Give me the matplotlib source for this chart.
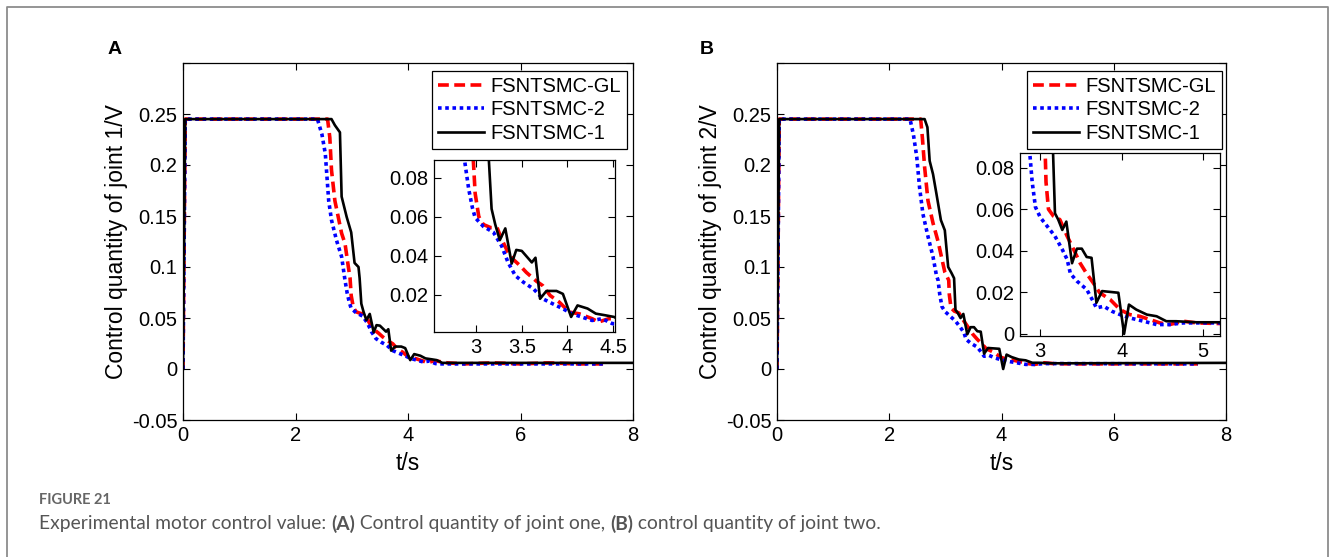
import numpy as np
import matplotlib
matplotlib.use("Agg")
import matplotlib.pyplot as plt
from matplotlib.lines import Line2D

plt.rcParams['font.family'] = ['Liberation Sans', 'DejaVu Sans']

# ---- data ----
labels = ["FSNTSMC-GL", "FSNTSMC-2", "FSNTSMC-1"]

# joint 1
t_gl_1 = [0, 0.04, 2.57, 2.61, 2.64, 2.70, 2.76, 2.82, 2.88, 2.94, 2.97, 2.99, 3.03, 3.08, 3.16, 3.23, 3.28,
          3.35, 3.41, 3.48, 3.55, 3.66, 3.73, 3.81, 3.91, 4.02, 4.13, 4.27, 4.34, 4.45, 4.51, 4.7, 5.0, 5.5,
          6.0, 6.5, 7.0, 7.5]
v_gl_1 = [0, 0.245, 0.245, 0.227, 0.195, 0.165, 0.149, 0.133, 0.123, 0.100, 0.089, 0.072, 0.060, 0.056,
          0.0544, 0.0544, 0.0485, 0.0417, 0.038, 0.035, 0.0315, 0.027, 0.0247, 0.0197, 0.0163, 0.0112,
          0.0103, 0.0078, 0.0061, 0.0078, 0.0078, 0.006, 0.005, 0.006, 0.005, 0.006, 0.005, 0.005]
t_s2_1 = [0, 0.04, 2.39, 2.47, 2.53, 2.56, 2.59, 2.64, 2.73, 2.82, 2.88, 2.92, 2.96, 2.99, 3.08, 3.19, 3.28,
          3.35, 3.43, 3.52, 3.63, 3.73, 3.84, 3.95, 4.05, 4.16, 4.27, 4.38, 4.49, 4.6, 7.5]
v_s2_1 = [0, 0.245, 0.245, 0.230, 0.211, 0.188, 0.165, 0.146, 0.126, 0.110, 0.087, 0.074, 0.0646, 0.0595,
          0.055, 0.052, 0.045, 0.0366, 0.0298, 0.0264, 0.023, 0.018, 0.0154, 0.0129, 0.0103, 0.0086,
          0.0069, 0.0078, 0.0053, 0.005, 0.005]
t_s1_1 = [0, 0.04, 2.64, 2.70, 2.79, 2.82, 2.91, 2.99, 3.05, 3.12, 3.14, 3.17, 3.21, 3.26, 3.32, 3.39, 3.44,
          3.50, 3.61, 3.65, 3.70, 3.77, 3.88, 3.95, 4.04, 4.11, 4.22, 4.31, 4.42, 4.51, 4.61, 8.0]
v_s1_1 = [0, 0.245, 0.245, 0.239, 0.232, 0.169, 0.149, 0.134, 0.104, 0.100, 0.089, 0.064, 0.056, 0.048,
          0.054, 0.036, 0.043, 0.0425, 0.0366, 0.039, 0.018, 0.022, 0.022, 0.0205, 0.0087, 0.0146, 0.013,
          0.0104, 0.0095, 0.0087, 0.006, 0.006]

# joint 2
t_gl_2 = [0, 0.04, 2.56, 2.59, 2.63, 2.69, 2.78, 2.87, 2.93, 2.99, 3.06, 3.07, 3.10, 3.16, 3.24, 3.33, 3.41,
          3.49, 3.57, 3.65, 3.73, 3.86, 3.98, 4.10, 4.22, 4.35, 4.47, 4.59, 4.76, 4.92, 5.2, 6.0, 7.0, 7.5]
v_gl_2 = [0, 0.245, 0.245, 0.227, 0.198, 0.165, 0.143, 0.125, 0.110, 0.095, 0.087, 0.073, 0.060, 0.0567,
          0.055, 0.047, 0.0406, 0.034, 0.029, 0.0246, 0.0198, 0.0165, 0.0117, 0.0093, 0.0085, 0.0069,
          0.0053, 0.0045, 0.0061, 0.0053, 0.005, 0.005, 0.005, 0.005]
t_s2_2 = [0, 0.04, 2.37, 2.43, 2.49, 2.54, 2.60, 2.69, 2.78, 2.84, 2.87, 2.90, 2.94, 3.0, 3.08, 3.18, 3.27,
          3.33, 3.37, 3.45, 3.57, 3.65, 3.69, 3.78, 3.88, 3.98, 4.10, 4.27, 4.43, 4.59, 4.76, 5.0, 5.2, 7.5]
v_s2_2 = [0, 0.245, 0.245, 0.230, 0.208, 0.178, 0.152, 0.130, 0.110, 0.092, 0.087, 0.073, 0.061, 0.056,
          0.052, 0.047, 0.0406, 0.0358, 0.029, 0.0254, 0.0214, 0.0157, 0.0125, 0.0133, 0.0109, 0.0093,
          0.0077, 0.0061, 0.0045, 0.0045, 0.0053, 0.0053, 0.0053, 0.005]
t_s1_2 = [0, 0.04, 2.63, 2.68, 2.72, 2.78, 2.84, 2.92, 2.99, 3.05, 3.11, 3.155, 3.18, 3.22, 3.27, 3.32, 3.39,
          3.45, 3.51, 3.57, 3.63, 3.69, 3.76, 3.96, 4.03, 4.09, 4.18, 4.31, 4.43, 4.55, 4.67, 4.92, 5.2, 8.0]
v_s1_2 = [0, 0.245, 0.245, 0.237, 0.204, 0.191, 0.172, 0.146, 0.136, 0.100, 0.094, 0.089, 0.058, 0.055,
          0.050, 0.054, 0.034, 0.041, 0.041, 0.037, 0.0366, 0.015, 0.0206, 0.0198, 0.0, 0.0141, 0.0117,
          0.0093, 0.0085, 0.0061, 0.0061, 0.0056, 0.0056, 0.006]

main_yticks = [-0.05, 0, 0.05, 0.1, 0.15, 0.2, 0.25, 0.3]
main_yticklabels = ["-0.05", "0", "0.05", "0.1", "0.15", "0.2", "0.25", ""]
main_xticks = [0, 2, 4, 6, 8]

W, H = 1332, 557
fig = plt.figure(figsize=(W / 100, H / 100), dpi=100)


def px(x0, y0, x1, y1):
    # pixel box (left, top, right, bottom) -> figure fraction rect
    return [x0 / W, 1 - y1 / H, (x1 - x0) / W, (y1 - y0) / H]


def style(ax, size):
    ax.tick_params(direction='in', top=True, right=True, length=5, width=0.8, labelsize=size, pad=4)
    for s in ax.spines.values():
        s.set_linewidth(0.9)


def draw(ax, tg, vg, t2, v2, t1, v1):
    ax.plot(tg, vg, color='red', lw=2.6, dashes=(3, 1.5), label=labels[0])
    ax.plot(t2, v2, color='blue', lw=2.6, dashes=(1, 1.0), label=labels[1])
    ax.plot(t1, v1, color='black', lw=1.9, label=labels[2])


panels = [
    dict(main=(183, 63, 633, 420), inset=(434, 160, 615, 332), legend=(627, 71), letter=(115, 50),
         ylabel="Control quantity of joint 1/V", data=(t_gl_1, v_gl_1, t_s2_1, v_s2_1, t_s1_1, v_s1_1),
         ixlim=(2.54, 4.52), iylim=(0.001, 0.089), ixticks=[3, 3.5, 4, 4.5],
         ixlabels=["3", "3.5", "4", "4.5"], iyticks=[0.02, 0.04, 0.06, 0.08], iylabels=["0.02", "0.04", "0.06", "0.08"],
         letter_text="A"),
    dict(main=(777, 63, 1226, 420), inset=(1020, 153, 1220, 336), legend=(1222, 71), letter=(707, 50),
         ylabel="Control quantity of joint 2/V", data=(t_gl_2, v_gl_2, t_s2_2, v_s2_2, t_s1_2, v_s1_2),
         ixlim=(2.75, 5.21), iylim=(-0.001, 0.087), ixticks=[3, 4, 5],
         ixlabels=["3", "4", "5"], iyticks=[0, 0.02, 0.04, 0.06, 0.08], iylabels=["0", "0.02", "0.04", "0.06", "0.08"],
         letter_text="B"),
]

for p in panels:
    ax = fig.add_axes(px(*p["main"]))
    draw(ax, *p["data"])
    ax.set_xlim(0, 8)
    ax.set_ylim(-0.05, 0.3)
    ax.set_xticks(main_xticks)
    ax.set_xticklabels([str(v) for v in main_xticks])
    ax.set_yticks(main_yticks)
    ax.set_yticklabels(main_yticklabels)
    style(ax, 14.5)
    ax.set_xlabel("t/s", fontsize=16.5, labelpad=5)
    ax.set_ylabel(p["ylabel"], fontsize=16.5, labelpad=3)
    leg = ax.legend(loc='upper right', bbox_to_anchor=(p["legend"][0] / W, 1 - p["legend"][1] / H),
                    bbox_transform=fig.transFigure, fontsize=14.5, frameon=True, fancybox=False,
                    edgecolor='black', framealpha=1, handlelength=2.3, handletextpad=0.3,
                    labelspacing=0.22, borderpad=0.3, borderaxespad=0)
    leg.get_frame().set_linewidth(0.9)

    ins = fig.add_axes(px(*p["inset"]))
    draw(ins, *p["data"])
    ins.set_xlim(*p["ixlim"])
    ins.set_ylim(*p["iylim"])
    ins.set_xticks(p["ixticks"])
    ins.set_xticklabels(p["ixlabels"])
    ins.set_yticks(p["iyticks"])
    ins.set_yticklabels(p["iylabels"])
    style(ins, 14.5)

    fig.text(p["letter"][0] / W, 1 - p["letter"][1] / H, p["letter_text"], fontsize=14,
             fontweight='bold', ha='center', va='center')

# outer frame of the figure panel
fx0, fx1, fy = 7 / W, 1328 / W, 1 - 7 / H
fig.add_artist(Line2D([fx0, fx0, fx1, fx1], [0, fy, fy, 0], transform=fig.transFigure,
                      color='#8c8c8c', lw=1.3))

# caption
fig.text(39 / W, 1 - 500 / H, "FIGURE 21", fontsize=10.5, color='#666666', va='center',
         fontweight='bold', family=['Lato', 'DejaVu Sans'])
pieces = [("Experimental motor control value: ", 'normal'), ("(A)", 'bold'),
          (" Control quantity of joint one, ", 'normal'), ("(B)", 'bold'),
          (" control quantity of joint two.", 'normal')]
fig.canvas.draw()
rend = fig.canvas.get_renderer()
x = 39
for txt, wt in pieces:
    tt = fig.text(x / W, 1 - 524 / H, txt, fontsize=13.9, color='#555555', va='center',
                  fontweight=wt, family=['Lato', 'DejaVu Sans'])
    x += tt.get_window_extent(rend).width

fig.savefig("out.png", dpi=100)
